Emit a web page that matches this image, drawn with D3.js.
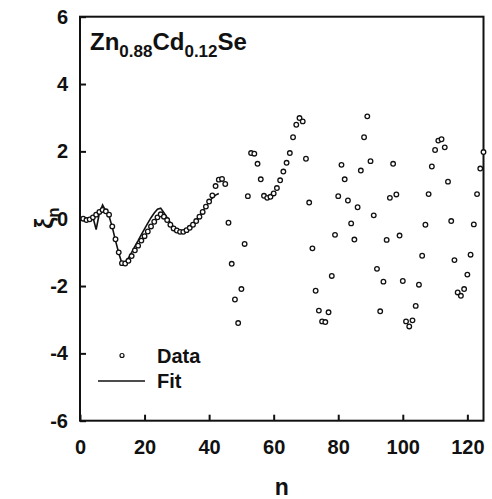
<!DOCTYPE html>
<html><head><meta charset="utf-8">
<script src="https://cdn.jsdelivr.net/npm/d3@7"></script>
<style>body{margin:0;background:#fff}text{font-family:"Liberation Sans",Arial,sans-serif;font-weight:bold}</style>
</head><body><svg id="c" width="492" height="499"></svg>
<script>
const dataN = d3.range(1, 126);
const dataV = [0.0,-0.04,-0.02,0.04,0.12,0.2,0.26,0.22,0.12,-0.23,
-0.61,-1.0,-1.32,-1.33,-1.25,-1.11,-0.94,-0.80,-0.65,-0.52,
-0.38,-0.23,-0.09,0.04,0.13,0.06,-0.04,-0.18,-0.29,-0.35,
-0.39,-0.39,-0.34,-0.27,-0.18,-0.07,0.06,0.2,0.36,0.51,
0.69,0.97,1.16,1.18,1.03,-0.12,-1.34,-2.40,-3.10,-2.09,
-0.75,0.67,1.95,1.93,1.63,1.17,0.68,0.62,0.65,0.75,
0.91,1.14,1.40,1.66,1.95,2.42,2.79,2.99,2.89,1.78,
0.48,-0.88,-2.14,-2.73,-3.05,-3.07,-2.78,-1.70,-0.48,0.67,
1.60,1.17,0.54,-0.14,-0.62,0.34,1.43,2.42,3.04,1.71,
0.10,-1.49,-2.75,-1.87,-0.63,0.62,1.63,0.72,-0.50,-1.85,
-3.05,-3.20,-3.02,-2.59,-1.96,-1.10,-0.18,0.73,1.55,2.04,
2.32,2.36,2.12,1.10,-0.07,-1.23,-2.19,-2.29,-2.09,-1.66,
-1.07,-0.17,0.73,1.49,1.98];
const fitN = d3.range(1, 44);
const fitV = [-0.02,-0.04,0.0,0.05,-0.32,0.16,0.41,0.22,0.08,-0.25,
-0.65,-1.02,-1.33,-1.30,-1.17,-1.00,-0.82,-0.65,-0.47,-0.30,
-0.13,0.03,0.17,0.28,0.31,0.18,0.03,-0.12,-0.25,-0.33,
-0.38,-0.38,-0.33,-0.25,-0.15,-0.04,0.08,0.22,0.36,0.50,
0.62,0.70,0.75];
const xTicks = [0,20,40,60,80,100,120];
const yTicks = [-6,-4,-2,0,2,4,6];

const svg = d3.select("#c");
const L=80, R=483.5, T=16.7, B=420.7;
const x = d3.scaleLinear().domain([0,125]).range([L,R]);
const y = d3.scaleLinear().domain([-6,6]).range([B,T]);

svg.append("rect").attr("x",L).attr("y",T).attr("width",R-L).attr("height",B-T)
  .attr("fill","none").attr("stroke","#111").attr("stroke-width",2);

const xa = svg.append("g").attr("transform",`translate(0,${B})`)
  .call(d3.axisBottom(x).tickValues(xTicks).tickSize(-6).tickPadding(19).tickFormat(d3.format("d")));
xa.select(".domain").remove();
xa.selectAll("line").attr("stroke","#111").attr("stroke-width",2);
xa.selectAll("text").attr("font-size",20).attr("fill","#111");

const ya = svg.append("g").attr("transform",`translate(${L},0)`)
  .call(d3.axisLeft(y).tickValues(yTicks).tickSize(-6).tickPadding(12).tickFormat(d3.format("d")));
ya.select(".domain").remove();
ya.selectAll("line").attr("stroke","#111").attr("stroke-width",2);
ya.selectAll("text").attr("font-size",20).attr("fill","#111").text(d=>d<0?"-"+Math.abs(d):d);

const line = d3.line().x((d,i)=>x(fitN[i])).y(d=>y(d));
svg.append("path").datum(fitV).attr("d",line).attr("fill","none")
  .attr("stroke","#111").attr("stroke-width",1.6);

svg.append("g").selectAll("circle").data(dataV).join("circle")
  .attr("cx",(d,i)=>x(dataN[i])).attr("cy",d=>y(d)).attr("r",2.3)
  .attr("fill","#fff").attr("stroke","#111").attr("stroke-width",1.3);

const t = svg.append("text").attr("x",90).attr("y",50).attr("font-size",24).attr("fill","#111");
t.append("tspan").text("Zn");
t.append("tspan").attr("font-size",17).attr("dy",7).text("0.88");
t.append("tspan").attr("dy",-7).text("Cd");
t.append("tspan").attr("font-size",17).attr("dy",7).text("0.12");
t.append("tspan").attr("dy",-7).text("Se");

svg.append("circle").attr("cx",122).attr("cy",355.5).attr("r",2).attr("fill","#fff").attr("stroke","#111").attr("stroke-width",1.2);
svg.append("text").attr("x",157).attr("y",362.5).attr("font-size",20).attr("fill","#111").text("Data");
svg.append("line").attr("x1",98).attr("x2",145).attr("y1",381).attr("y2",381).attr("stroke","#111").attr("stroke-width",1.6);
svg.append("text").attr("x",157).attr("y",388).attr("font-size",20).attr("fill","#111").text("Fit");

svg.append("text").attr("x",(L+R)/2).attr("y",495).attr("text-anchor","middle").attr("font-size",23).attr("fill","#111").text("n");
const yl = svg.append("text").attr("transform","translate(53,218) rotate(-90)").attr("text-anchor","middle").attr("font-size",25).attr("fill","#111");
yl.append("tspan").text("ξ");
yl.append("tspan").attr("font-size",17).attr("dy",6).text("n");
</script></body></html>
